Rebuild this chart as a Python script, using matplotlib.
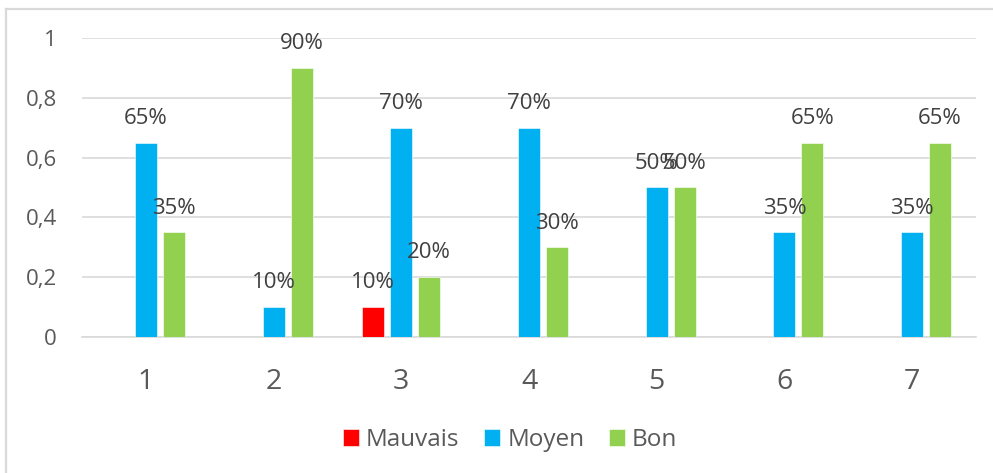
import matplotlib
matplotlib.use("Agg")
import matplotlib.pyplot as plt
import numpy as np
from matplotlib.lines import Line2D

categories = ["1", "2", "3", "4", "5", "6", "7"]
series_names = ["Mauvais", "Moyen", "Bon"]
mauvais = [0, 0, 0.10, 0, 0, 0, 0]
moyen = [0.65, 0.10, 0.70, 0.70, 0.50, 0.35, 0.35]
bon = [0.35, 0.90, 0.20, 0.30, 0.50, 0.65, 0.65]
y_ticks = [0, 0.2, 0.4, 0.6, 0.8, 1]
y_tick_labels = ["0", "0,2", "0,4", "0,6", "0,8", "1"]

colors = ["#FF0000", "#00B0F0", "#92D050"]
grid_color = "#D9D9D9"

plt.rcParams["font.family"] = ["Open Sans", "DejaVu Sans"]

W, H = 993, 473
fig = plt.figure(figsize=(W / 100, H / 100), dpi=100)

# frame of the chart object: only left and top edges are visible
fig.add_artist(Line2D([6 / W, 6 / W], [0, 1 - 9 / H], transform=fig.transFigure,
                      color=grid_color, lw=1.6))
fig.add_artist(Line2D([6 / W, 1], [1 - 9 / H, 1 - 9 / H], transform=fig.transFigure,
                      color=grid_color, lw=1.6))

left, right, top, bottom = 82, 976, 38, 337
ax = fig.add_axes([left / W, 1 - bottom / H, (right - left) / W, (bottom - top) / H])

x = np.arange(1, len(categories) + 1)
offset = 0.219
width = 0.172
for i, (name, vals, col) in enumerate(zip(series_names, [mauvais, moyen, bon], colors)):
    pos = x + (i - 1) * offset
    ax.bar(pos, vals, width=width, color=col, edgecolor="white", linewidth=0.4,
           label=name, zorder=3)
    for px, v in zip(pos, vals):
        if v > 0:
            ax.annotate(f"{v * 100:.0f}%", (px, v), xytext=(0, 13.5),
                        textcoords="offset points", ha="center", va="baseline",
                        fontsize=16, color="#404040", clip_on=False, zorder=4)

ax.set_xlim(0.5, len(categories) + 0.5)
ax.set_ylim(0, 1)
ax.set_xticks(x)
ax.set_xticklabels(categories, fontsize=20.5, color="#595959")
ax.set_yticks(y_ticks)
ax.set_yticklabels(y_tick_labels, fontsize=16, color="#595959")
ax.tick_params(axis="x", length=0, pad=22)
ax.tick_params(axis="y", length=0, pad=18)
ax.grid(axis="y", color=grid_color, linewidth=1.2, zorder=0)
for side in ["left", "right", "top"]:
    ax.spines[side].set_visible(False)
ax.spines["bottom"].set_color(grid_color)
ax.spines["bottom"].set_linewidth(1.2)
ax.set_axisbelow(True)

handles, labels = ax.get_legend_handles_labels()
fig.legend(handles, labels, loc="center", bbox_to_anchor=(510 / W, 33 / H),
           ncol=3, frameon=False, fontsize=17.5, labelcolor="#595959",
           handlelength=0.66, handleheight=0.66, handletextpad=0.3,
           columnspacing=1.0)

fig.savefig("out.png", dpi=100)
